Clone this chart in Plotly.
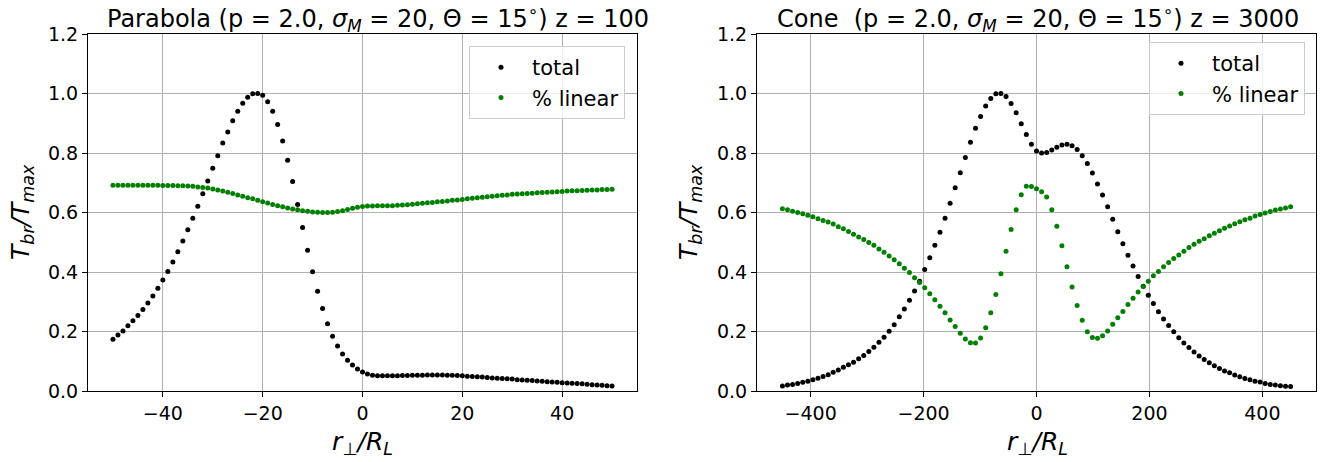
import plotly.graph_objects as go

# ---------------- data ----------------
x_parabola = list(range(-50, 51))          # r_perp / R_L, left panel
total_parabola = [
    0.174, 0.188, 0.202, 0.219, 0.236, 0.254, 0.274, 0.296, 0.319, 0.345,
    0.373, 0.402, 0.434, 0.468, 0.504, 0.542, 0.581, 0.621, 0.663, 0.706,
    0.749, 0.791, 0.834, 0.871, 0.908, 0.940, 0.967, 0.987, 0.999, 1.000,
    0.994, 0.972, 0.940, 0.896, 0.840, 0.776, 0.704, 0.627, 0.550, 0.473,
    0.401, 0.335, 0.277, 0.226, 0.184, 0.151, 0.124, 0.103, 0.087, 0.074,
    0.064, 0.057, 0.053, 0.051, 0.051, 0.051, 0.051, 0.051, 0.052, 0.052,
    0.053, 0.053, 0.053, 0.054, 0.054, 0.054, 0.054, 0.053, 0.053, 0.052,
    0.051, 0.050, 0.049, 0.048, 0.047, 0.045, 0.044, 0.043, 0.042, 0.041,
    0.040, 0.038, 0.037, 0.036, 0.035, 0.034, 0.033, 0.031, 0.030, 0.029,
    0.028, 0.027, 0.026, 0.025, 0.024, 0.023, 0.021, 0.020, 0.019, 0.018,
    0.017,
]
linear_parabola = [
    0.692, 0.692, 0.692, 0.692, 0.692, 0.692, 0.692, 0.692, 0.692, 0.692,
    0.691, 0.691, 0.691, 0.690, 0.690, 0.689, 0.688, 0.686, 0.684, 0.682,
    0.679, 0.676, 0.672, 0.668, 0.664, 0.659, 0.655, 0.650, 0.646, 0.641,
    0.636, 0.632, 0.627, 0.623, 0.619, 0.615, 0.612, 0.609, 0.606, 0.604,
    0.602, 0.601, 0.600, 0.600, 0.601, 0.603, 0.606, 0.610, 0.614, 0.618,
    0.620, 0.622, 0.622, 0.623, 0.623, 0.623, 0.623, 0.624, 0.625, 0.626,
    0.628, 0.629, 0.631, 0.633, 0.634, 0.636, 0.637, 0.639, 0.641, 0.642,
    0.644, 0.646, 0.648, 0.650, 0.651, 0.653, 0.655, 0.656, 0.658, 0.659,
    0.661, 0.662, 0.663, 0.664, 0.665, 0.666, 0.667, 0.668, 0.669, 0.670,
    0.671, 0.672, 0.673, 0.673, 0.674, 0.675, 0.676, 0.676, 0.677, 0.677,
    0.678,
]

x_cone = list(range(-450, 451, 9))        # r_perp / R_L, right panel
total_cone = [
    0.017, 0.020, 0.022, 0.025, 0.029, 0.033, 0.038, 0.043, 0.049, 0.055,
    0.063, 0.071, 0.080, 0.088, 0.097, 0.108, 0.119, 0.133, 0.147, 0.164,
    0.181, 0.201, 0.223, 0.250, 0.276, 0.305, 0.336, 0.369, 0.408, 0.448,
    0.490, 0.534, 0.581, 0.631, 0.683, 0.734, 0.785, 0.836, 0.883, 0.923,
    0.958, 0.983, 0.999, 1.000, 0.990, 0.966, 0.935, 0.898, 0.862, 0.829,
    0.807, 0.800, 0.802, 0.810, 0.819, 0.827, 0.829, 0.824, 0.812, 0.791,
    0.765, 0.733, 0.696, 0.659, 0.619, 0.577, 0.535, 0.495, 0.456, 0.420,
    0.385, 0.352, 0.322, 0.294, 0.266, 0.242, 0.220, 0.199, 0.179, 0.161,
    0.146, 0.131, 0.118, 0.106, 0.095, 0.085, 0.076, 0.067, 0.061, 0.054,
    0.048, 0.042, 0.038, 0.033, 0.030, 0.025, 0.022, 0.020, 0.018, 0.016,
    0.015,
]
linear_cone = [
    0.613, 0.609, 0.604, 0.600, 0.596, 0.591, 0.586, 0.579, 0.573, 0.568,
    0.561, 0.552, 0.545, 0.536, 0.527, 0.518, 0.509, 0.499, 0.490, 0.477,
    0.466, 0.454, 0.441, 0.428, 0.413, 0.398, 0.381, 0.365, 0.347, 0.327,
    0.307, 0.285, 0.263, 0.239, 0.217, 0.194, 0.175, 0.162, 0.161, 0.178,
    0.213, 0.263, 0.324, 0.394, 0.470, 0.543, 0.609, 0.660, 0.688, 0.687,
    0.680, 0.670, 0.652, 0.609, 0.554, 0.488, 0.418, 0.350, 0.287, 0.238,
    0.199, 0.180, 0.177, 0.186, 0.202, 0.224, 0.246, 0.267, 0.291, 0.312,
    0.333, 0.351, 0.369, 0.387, 0.402, 0.418, 0.432, 0.445, 0.457, 0.470,
    0.482, 0.493, 0.503, 0.512, 0.522, 0.530, 0.539, 0.547, 0.555, 0.562,
    0.569, 0.576, 0.581, 0.588, 0.593, 0.598, 0.603, 0.608, 0.612, 0.615,
    0.619,
]

x_ticks_parabola = [-40, -20, 0, 20, 40]
x_ticks_cone = [-400, -200, 0, 200, 400]
y_ticks = [0.0, 0.2, 0.4, 0.6, 0.8, 1.0, 1.2]

title_parabola = "Parabola (p = 2.0, <i>σ</i><sub><i>M</i></sub> = 20, Θ = 15<sup>∘</sup>) z = 100"
title_cone = "Cone  (p = 2.0, <i>σ</i><sub><i>M</i></sub> = 20, Θ = 15<sup>∘</sup>) z = 3000"
ylabel = "<i>T</i><sub><i>br</i></sub><i>/T</i><sub><i>max</i></sub>"
xlabel = "<i>r</i><sub>⊥</sub><i>/R</i><sub><i>L</i></sub>"

# ---------------- layout geometry ----------------
W, H = 1328, 462
FONT = "DejaVu Sans"
FS = 19


def px(v):
    return v / W


def py(v):
    return 1 - v / H


left_dom = [px(88), px(637)]
right_dom = [px(757), px(1316)]
y_dom = [py(391), py(34)]

fig = go.Figure()

mk = dict(size=5)
fig.add_trace(go.Scatter(x=x_parabola, y=total_parabola, mode="markers", name="total",
                         marker=dict(color="black", **mk), xaxis="x", yaxis="y", legend="legend"))
fig.add_trace(go.Scatter(x=x_parabola, y=linear_parabola, mode="markers", name="% linear",
                         marker=dict(color="green", **mk), xaxis="x", yaxis="y", legend="legend"))
fig.add_trace(go.Scatter(x=x_cone, y=total_cone, mode="markers", name="total",
                         marker=dict(color="black", **mk), xaxis="x2", yaxis="y2", legend="legend2"))
fig.add_trace(go.Scatter(x=x_cone, y=linear_cone, mode="markers", name="% linear",
                         marker=dict(color="green", **mk), xaxis="x2", yaxis="y2", legend="legend2"))

axis_common = dict(showline=True, mirror=True, linecolor="black", linewidth=1,
                   ticks="outside", ticklen=5, tickwidth=1, tickcolor="black",
                   showgrid=True, gridcolor="#b0b0b0", gridwidth=1,
                   zeroline=False, automargin=False,
                   tickfont=dict(family=FONT, size=FS, color="black"))

legend_common = dict(xanchor="right", yanchor="top",
                     bgcolor="rgba(255,255,255,0.8)", bordercolor="#cccccc", borderwidth=1,
                     font=dict(family=FONT, size=21, color="black"), itemwidth=52)

fig.update_layout(
    width=W, height=H,
    margin=dict(l=0, r=0, t=0, b=0),
    paper_bgcolor="white", plot_bgcolor="white",
    font=dict(family=FONT, size=FS, color="black"),
    xaxis=dict(domain=left_dom, range=[-55, 55], tickvals=x_ticks_parabola, anchor="y", **axis_common),
    yaxis=dict(domain=y_dom, range=[0, 1.2], tickvals=y_ticks, tickformat=".1f", anchor="x", **axis_common),
    xaxis2=dict(domain=right_dom, range=[-495, 495], tickvals=x_ticks_cone, anchor="y2", **axis_common),
    yaxis2=dict(domain=y_dom, range=[0, 1.2], tickvals=y_ticks, tickformat=".1f", anchor="x2", **axis_common),
    legend=dict(x=px(625), y=py(46), **legend_common),
    legend2=dict(x=px(1305), y=py(42), **legend_common),
    showlegend=True,
)

annotations = [
    dict(text=title_parabola, x=px(105), y=py(18), xanchor="left", yanchor="middle", size=24),
    dict(text=title_cone, x=px(775), y=py(18), xanchor="left", yanchor="middle", size=24),
    dict(text=ylabel, x=px(22), y=py(212), xanchor="center", yanchor="middle", textangle=-90, size=25),
    dict(text=ylabel, x=px(690), y=py(212), xanchor="center", yanchor="middle", textangle=-90, size=25),
    dict(text=xlabel, x=px(362), y=py(443), xanchor="center", yanchor="middle", size=25),
    dict(text=xlabel, x=px(1037), y=py(443), xanchor="center", yanchor="middle", size=25),
]
for a in annotations:
    s = a.pop("size")
    a.update(xref="paper", yref="paper", showarrow=False,
             font=dict(family=FONT, size=s, color="black"))
fig.update_layout(annotations=annotations)

fig.write_html("out.html")
